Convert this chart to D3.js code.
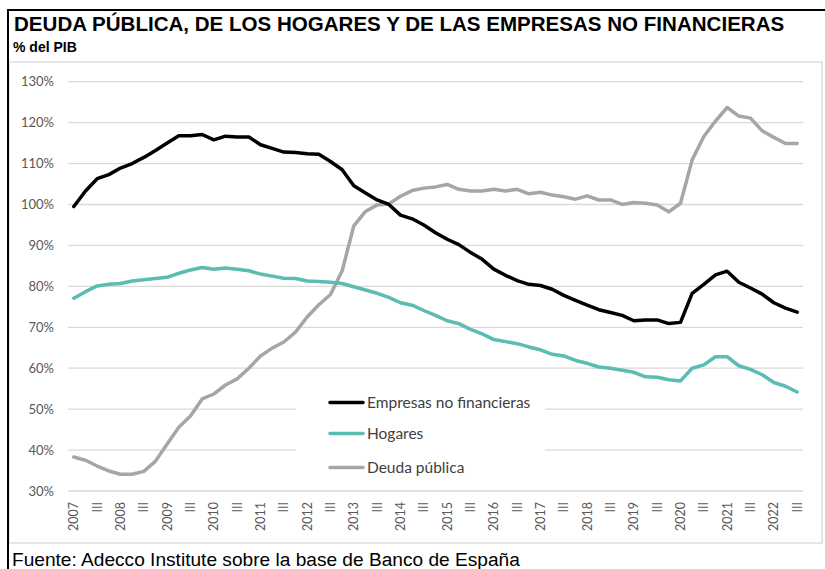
<!DOCTYPE html>
<html><head><meta charset="utf-8">
<script src="https://cdn.jsdelivr.net/npm/d3@7"></script>
<style>body{margin:0;background:#fff}svg{display:block}</style>
</head><body>
<script>
const title = "DEUDA PÚBLICA, DE LOS HOGARES Y DE LAS EMPRESAS NO FINANCIERAS";
const subtitle = "% del PIB";
const source = "Fuente: Adecco Institute sobre la base de Banco de España";
const years = [2007,2008,2009,2010,2011,2012,2013,2014,2015,2016,2017,2018,2019,2020,2021,2022];
const nQuarters = 63; // 2007-I .. 2022-III
const seriesNames = ["Empresas no financieras","Hogares","Deuda pública"];
const seriesColors = ["#000000","#5BBCB3","#A6A6A6"];
const empresas = [99.5,103.3,106.3,107.3,108.9,110.0,111.5,113.2,115.0,116.8,
116.8,117.1,115.8,116.7,116.5,116.5,114.6,113.7,112.8,112.7,
112.4,112.3,110.5,108.5,104.6,102.8,101.1,100.0,97.4,96.5,
95.0,93.1,91.5,90.2,88.3,86.6,84.2,82.7,81.4,80.5,
80.2,79.3,77.8,76.6,75.4,74.3,73.6,72.9,71.6,71.8,
71.8,70.9,71.2,78.3,80.5,82.8,83.7,81.0,79.6,78.1,
76.0,74.7,73.7];
const hogares = [77.1,78.7,80.1,80.5,80.7,81.3,81.6,81.9,82.2,83.2,
84.0,84.6,84.2,84.5,84.2,83.8,83.0,82.5,82.0,81.9,
81.3,81.2,81.0,80.7,79.9,79.1,78.3,77.3,76.0,75.4,
74.1,72.9,71.6,70.9,69.5,68.4,67.0,66.5,66.0,65.2,
64.5,63.4,63.0,61.9,61.2,60.3,60.0,59.5,59.0,57.9,
57.8,57.2,56.9,60.0,60.8,62.8,62.8,60.6,59.7,58.4,
56.5,55.6,54.2];
const deuda = [38.3,37.5,36.1,34.9,34.1,34.1,34.8,37.3,41.5,45.6,
48.3,52.5,53.7,55.9,57.4,60.0,63.0,64.9,66.4,68.8,
72.5,75.5,78.0,83.8,94.8,98.3,99.9,100.1,102.0,103.4,
104.0,104.3,104.9,103.7,103.3,103.3,103.7,103.3,103.7,102.6,
103.0,102.3,101.9,101.3,102.1,101.1,101.1,100.0,100.5,100.3,
99.9,98.2,100.3,110.9,116.6,120.4,123.7,121.6,121.1,118.0,
116.4,114.9,114.9];
const yTicks = [30,40,50,60,70,80,90,100,110,120,130];
const quarterLabels = d3.range(nQuarters).map(i => i%4===0 ? String(years[i/4]) : (i%4===2 ? "III" : ""));

const W = 825, H = 569;
const svg = d3.select("body").append("svg").attr("width", W).attr("height", H);

// frame
svg.append("rect").attr("x",9).attr("y",62).attr("width",813).attr("height",481)
  .attr("fill","none").attr("stroke","#D9D9D9").attr("stroke-width",1.3);
svg.append("line").attr("x1",8).attr("x2",825).attr("y1",10).attr("y2",10).attr("stroke","#000").attr("stroke-width",2);
svg.append("line").attr("x1",8).attr("x2",8).attr("y1",9).attr("y2",569).attr("stroke","#000").attr("stroke-width",2);

// titles
const t = svg.append("text").attr("x",14).attr("y",31).attr("font-family","Liberation Sans, Arial, sans-serif")
  .attr("font-weight","bold").attr("font-size",18).attr("fill","#000").text(title);
const tw = t.node().getComputedTextLength();
t.attr("font-size", 18*771/tw);
svg.append("text").attr("x",13).attr("y",52).attr("font-family","Liberation Sans, Arial, sans-serif")
  .attr("font-weight","bold").attr("font-size",14).attr("fill","#000").text(subtitle);
const s = svg.append("text").attr("x",12).attr("y",566).attr("font-family","Liberation Sans, Arial, sans-serif")
  .attr("font-size",14).attr("fill","#000").text(source);
const sw = s.node().getComputedTextLength();
s.attr("font-size", 14*508/sw);

// scales
const x = d3.scaleBand().domain(d3.range(nQuarters)).range([68, 803]).padding(0);
const cx = i => x(i) + x.bandwidth()/2;
const y = d3.scaleLinear().domain([30,130]).range([491, 81.7]);

// gridlines
svg.append("g").selectAll("line").data(yTicks).join("line")
  .attr("x1",68).attr("x2",803).attr("y1",d=>y(d)).attr("y2",d=>y(d))
  .attr("stroke","#D9D9D9").attr("stroke-width",1.3);

// y labels
svg.append("g").selectAll("text").data(yTicks).join("text")
  .attr("x",54).attr("y",d=>y(d)).attr("dy","0.35em").attr("text-anchor","end")
  .attr("font-family","Lato, sans-serif").attr("font-size",13).attr("fill","#595959")
  .text(d=>d+"%");

// x labels
svg.append("g").selectAll("text").data(quarterLabels.map((l,i)=>({l,i})).filter(d=>d.l!=="")).join("text")
  .attr("transform",d=>`translate(${cx(d.i)+4.5},502) rotate(-90)`)
  .attr("text-anchor","end")
  .attr("font-family","Lato, sans-serif").attr("font-size",12.5).attr("fill","#595959")
  .text(d=>d.l);

// legend background
svg.append("rect").attr("x",296).attr("y",386).attr("width",249).attr("height",98).attr("fill","#fff");

// lines
const allSeries = [empresas, hogares, deuda];
const line = d3.line().x((d,i)=>cx(i)).y(d=>y(d));
[2,1,0].forEach(k => {
  svg.append("path").datum(allSeries[k]).attr("d", line)
    .attr("fill","none").attr("stroke",seriesColors[k]).attr("stroke-width",3.5)
    .attr("stroke-linejoin","round").attr("stroke-linecap","round");
});

// legend
const legY = [402.5, 433.5, 467.5];
seriesNames.forEach((n,k) => {
  svg.append("line").attr("x1",330).attr("x2",363).attr("y1",legY[k]).attr("y2",legY[k])
    .attr("stroke",seriesColors[k]).attr("stroke-width",3.5).attr("stroke-linecap","round");
  svg.append("text").attr("x",367).attr("y",legY[k]).attr("dy","0.35em")
    .attr("font-family","Lato, sans-serif").attr("font-size",15.5).attr("fill","#404040").text(n);
});
</script>
</body></html>
